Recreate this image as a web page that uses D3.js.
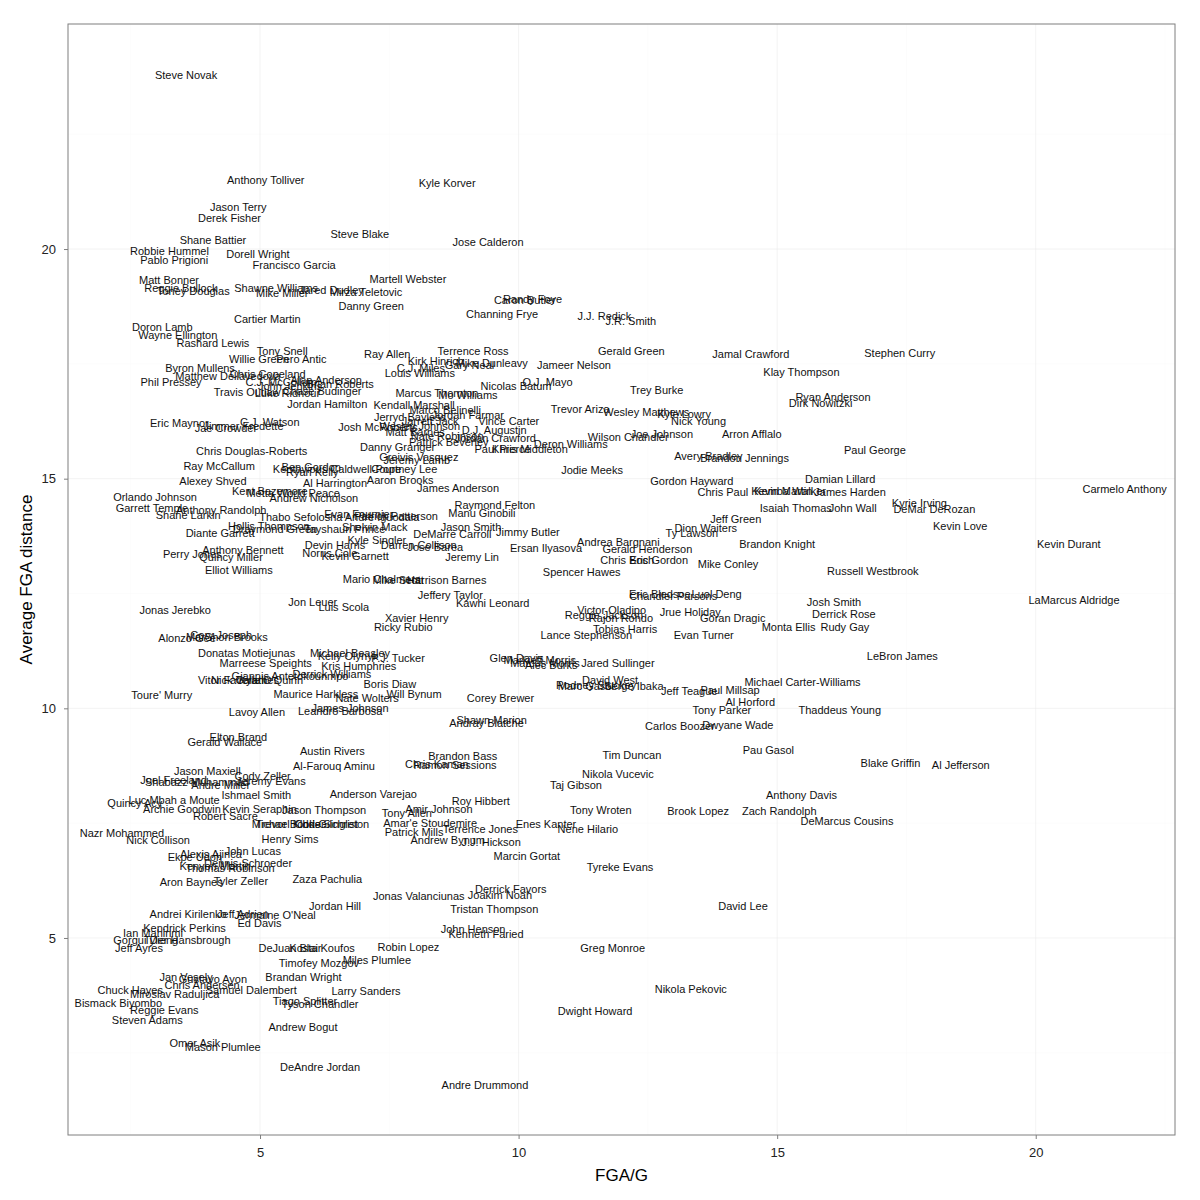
<!DOCTYPE html>
<html>
<head>
<meta charset="utf-8">
<script src="https://cdn.jsdelivr.net/npm/d3@7"></script>
<style>
  body { margin: 0; background: #fff; }
  svg { font-family: "Liberation Sans", Arial, sans-serif; }
</style>
</head>
<body>
<div id="chart"></div>
<script>
// player names, FGA per game and average FGA distance (ft), same order in each array
const players = [
  'Steve Novak', 'Anthony Tolliver', 'Jason Terry', 'Derek Fisher', 'Shane Battier', 'Robbie Hummel', 'Pablo Prigioni', 'Dorell Wright', 'Francisco Garcia', 'Matt Bonner',
  'Reggie Bullock', 'Toney Douglas', 'Shawne Williams', 'Mike Miller', 'Jared Dudley', 'Mirza Teletovic', 'Cartier Martin', 'Doron Lamb', 'Wayne Ellington', 'Rashard Lewis',
  'Kyle Korver', 'Steve Blake', 'Jose Calderon', 'Martell Webster', 'Danny Green', 'Randy Foye', 'Caron Butler', 'Channing Frye', 'J.J. Redick', 'J.R. Smith',
  'Tony Snell', 'Willie Green', 'Pero Antic', 'Byron Mullens', 'Matthew Dellavedova', 'Chris Copeland', 'C.J. McCollum', 'John Jenkins', 'Alan Anderson', 'Brian Roberts',
  'Chase Budinger', 'Travis Outlaw', 'Luke Ridnour', 'Jordan Hamilton', 'Kendall Marshall', 'Phil Pressey', 'Eric Maynor', 'Jae Crowder', 'Jimmer Fredette', 'C.J. Watson',
  'Chris Douglas-Roberts', 'Ray McCallum', 'Alexey Shved', 'Orlando Johnson', 'Garrett Temple', 'Shane Larkin', 'Anthony Randolph', 'Diante Garrett', 'Perry Jones', 'Anthony Bennett',
  'Quincy Miller', 'Hollis Thompson', 'Draymond Green', 'Tayshaun Prince', 'Shelvin Mack', 'Kyle Singler', 'Devin Harris', 'Darren Collison', 'Jose Barea', 'Norris Cole',
  'Kevin Garnett', 'Jeremy Lin', 'Jimmy Butler', 'Ersan Ilyasova', 'DeMarre Carroll', 'Jason Smith', 'Manu Ginobili', 'Raymond Felton', 'Evan Fournier', 'Patrick Patterson',
  'Thabo Sefolosha', 'Andre Iguodala', 'Ray Allen', 'Terrence Ross', 'Kirk Hinrich', 'Mike Dunleavy', 'Gary Neal', 'C.J. Miles', 'Louis Williams', 'Jameer Nelson',
  'O.J. Mayo', 'Nicolas Batum', 'Marcus Thornton', 'Mo Williams', 'Jordan Farmar', 'Vince Carter', 'D.J. Augustin', 'Jordan Crawford', 'Nate Robinson', 'Patrick Beverley',
  'Paul Pierce', 'Khris Middleton', 'Deron Williams', 'Josh McRoberts', 'Jerryd Bayless', 'Marco Belinelli', 'Matt Barnes', 'Wesley Johnson', 'Jarrett Jack', 'Danny Granger',
  'Greivis Vasquez', 'Jeremy Lamb', 'Courtney Lee', 'Kentavious Caldwell-Pope', 'Ben Gordon', 'Ryan Kelly', 'Al Harrington', 'Aaron Brooks', 'James Anderson', 'Metta World Peace',
  'Kent Bazemore', 'Andrew Nicholson', 'Elliot Williams', 'Jonas Jerebko', 'Jon Leuer', 'Alonzo Gee', 'Cory Joseph', 'MarShon Brooks', 'Donatas Motiejunas', 'Marreese Speights',
  'Giannis Antetokounmpo', 'Derrick Williams', 'Vitor Faverani', 'Nick Calathes', "Kyle O'Quinn", "Toure' Murry", 'Maurice Harkless', 'Lavoy Allen', 'Leandro Barbosa', 'Elton Brand',
  'Gerald Wallace', 'Jason Maxiell', 'Cody Zeller', 'Mario Chalmers', 'Mike Scott', 'Harrison Barnes', 'Jeffery Taylor', 'Kawhi Leonard', 'Luis Scola', 'Xavier Henry',
  'Ricky Rubio', 'Michael Beasley', 'Kelly Olynyk', 'P.J. Tucker', 'Kris Humphries', 'Boris Diaw', 'Will Bynum', 'Nate Wolters', 'James Johnson', 'Glen Davis',
  'Markieff Morris', 'Marcus Morris', 'Alec Burks', 'Corey Brewer', 'Shawn Marion', 'Andray Blatche', 'Austin Rivers', 'Al-Farouq Aminu', 'Brandon Bass', 'Chris Kaman',
  'Ramon Sessions', 'Gerald Green', 'Jamal Crawford', 'Klay Thompson', 'Trey Burke', 'Trevor Ariza', 'Wesley Matthews', 'Kyle Lowry', 'Nick Young', 'Wilson Chandler',
  'Joe Johnson', 'Arron Afflalo', 'Jodie Meeks', 'Avery Bradley', 'Brandon Jennings', 'Gordon Hayward', 'Chris Paul', 'Kevin Martin', 'Kemba Walker', 'James Harden',
  'Damian Lillard', 'Isaiah Thomas', 'John Wall', 'Kyrie Irving', 'DeMar DeRozan', 'Kevin Love', 'Carmelo Anthony', 'Kevin Durant', 'Brandon Knight', 'Jeff Green',
  'Dion Waiters', 'Ty Lawson', 'Andrea Bargnani', 'Gerald Henderson', 'Chris Bosh', 'Eric Gordon', 'Mike Conley', 'Spencer Hawes', 'Russell Westbrook', 'Eric Bledsoe',
  'Chandler Parsons', 'Luol Deng', 'Josh Smith', 'LaMarcus Aldridge', 'Victor Oladipo', 'Reggie Jackson', 'Rajon Rondo', 'Jrue Holiday', 'Goran Dragic', 'Derrick Rose',
  'Monta Ellis', 'Rudy Gay', 'Tobias Harris', 'Lance Stephenson', 'Evan Turner', 'LeBron James', 'Jared Sullinger', 'Rodney Stuckey', 'Marc Gasol', 'David West',
  'Serge Ibaka', 'Jeff Teague', 'Paul Millsap', 'Michael Carter-Williams', 'Al Horford', 'Tony Parker', 'Thaddeus Young', 'Carlos Boozer', 'Dwyane Wade', 'Pau Gasol',
  'Tim Duncan', 'Nikola Vucevic', 'Blake Griffin', 'Al Jefferson', 'Stephen Curry', 'Ryan Anderson', 'Dirk Nowitzki', 'Paul George', 'Joel Freeland', 'Shabazz Muhammad',
  'Andre Miller', 'Jeremy Evans', 'Ishmael Smith', 'Luc Mbah a Moute', 'Quincy Acy', 'Archie Goodwin', 'Kevin Seraphin', 'Robert Sacre', 'Jason Thompson', 'Michael Kidd-Gilchrist',
  'Chris Singleton', 'Trevor Booker', 'Henry Sims', 'Nazr Mohammed', 'Nick Collison', 'Alexis Ajinca', 'Ekpe Udoh', 'John Lucas', 'Dennis Schroeder', 'Kenyon Martin',
  'Thomas Robinson', 'Aron Baynes', 'Tyler Zeller', 'Zaza Pachulia', 'Andrei Kirilenko', 'Jeff Adrien', "Jermaine O'Neal", 'Jordan Hill', 'Ed Davis', 'Kendrick Perkins',
  'Ian Mahinmi', 'Tyler Hansbrough', 'Gorgui Dieng', 'Jeff Ayres', 'DeJuan Blair', 'Kosta Koufos', 'Timofey Mozgov', 'Miles Plumlee', 'Robin Lopez', 'Brandan Wright',
  'Jan Vesely', 'Gustavo Ayon', 'Chris Andersen', 'Samuel Dalembert', 'Chuck Hayes', 'Miroslav Raduljica', 'Bismack Biyombo', 'Tiago Splitter', 'Tyson Chandler', 'Larry Sanders',
  'Reggie Evans', 'Steven Adams', 'Andrew Bogut', 'Omer Asik', 'Mason Plumlee', 'DeAndre Jordan', 'Andre Drummond', 'Anderson Varejao', 'Roy Hibbert', 'Amir Johnson',
  'Tony Allen', "Amar'e Stoudemire", 'Terrence Jones', 'Patrick Mills', 'Andrew Bynum', 'J.J. Hickson', 'Marcin Gortat', 'Enes Kanter', 'Nene Hilario', 'Jonas Valanciunas',
  'Derrick Favors', 'Joakim Noah', 'Tristan Thompson', 'John Henson', 'Kenneth Faried', 'Taj Gibson', 'Tony Wroten', 'Brook Lopez', 'Zach Randolph', 'Anthony Davis',
  'DeMarcus Cousins', 'Tyreke Evans', 'David Lee', 'Greg Monroe', 'Nikola Pekovic', 'Dwight Howard'
];

const fgaPerGame = [
  3.57, 5.11, 4.58, 4.41, 4.09, 3.25, 3.34, 4.96, 5.66, 3.24,
  3.47, 3.71, 5.31, 5.43, 6.38, 7.05, 5.14, 3.11, 3.41, 4.09,
  8.62, 6.93, 9.41, 7.86, 7.15, 10.27, 10.12, 9.68, 11.66, 12.17,
  5.43, 4.98, 5.80, 3.84, 4.38, 5.15, 5.41, 5.58, 6.28, 6.55,
  6.20, 4.75, 5.53, 6.30, 7.98, 3.28, 3.44, 4.34, 4.68, 5.19,
  4.84, 4.21, 4.09, 2.97, 2.91, 3.61, 4.25, 4.23, 3.69, 4.67,
  4.44, 5.17, 5.29, 6.64, 7.22, 7.26, 6.45, 8.07, 8.39, 6.35,
  6.84, 9.10, 10.18, 10.53, 8.72, 9.08, 9.29, 9.54, 6.91, 7.63,
  5.79, 7.36, 7.46, 9.12, 8.40, 9.48, 9.05, 8.11, 8.09, 11.07,
  10.56, 9.95, 8.42, 9.02, 9.02, 9.81, 9.53, 9.55, 8.62, 8.65,
  9.69, 10.22, 11.01, 7.28, 7.90, 8.58, 8.00, 8.09, 8.29, 7.66,
  8.07, 8.03, 7.79, 6.49, 5.99, 6.01, 6.45, 7.71, 8.83, 5.64,
  5.19, 6.04, 4.59, 3.36, 6.02, 3.59, 4.25, 4.36, 4.74, 5.11,
  5.58, 6.39, 4.46, 4.71, 5.21, 3.10, 6.08, 4.94, 6.55, 4.58,
  4.32, 3.98, 5.05, 7.35, 7.67, 8.61, 8.68, 9.50, 6.62, 8.03,
  7.77, 6.74, 6.70, 7.67, 6.91, 7.51, 7.98, 7.07, 6.74, 9.96,
  10.41, 10.51, 10.63, 9.65, 9.48, 9.38, 6.40, 6.43, 8.92, 8.42,
  8.77, 12.18, 14.49, 15.47, 12.67, 11.19, 12.47, 13.20, 13.48, 12.12,
  12.77, 14.51, 11.42, 13.67, 14.37, 13.35, 13.95, 15.09, 15.25, 16.41,
  16.22, 15.36, 16.46, 17.75, 18.04, 18.54, 21.72, 20.64, 15.00, 14.20,
  13.62, 13.35, 11.93, 12.49, 12.10, 12.71, 14.05, 11.22, 16.85, 12.73,
  12.99, 13.83, 16.10, 20.74, 11.80, 11.65, 11.98, 13.32, 14.14, 16.29,
  15.22, 16.31, 12.06, 11.31, 13.58, 17.42, 11.92, 11.50, 11.30, 11.77,
  12.23, 13.30, 14.09, 15.49, 14.48, 13.93, 16.21, 13.12, 14.24, 14.83,
  12.19, 11.92, 17.19, 18.55, 17.37, 16.08, 15.84, 16.89, 3.33, 3.78,
  4.24, 5.21, 4.93, 3.34, 2.58, 3.49, 4.99, 4.33, 6.24, 5.87,
  6.39, 5.58, 5.58, 2.33, 3.03, 4.05, 3.74, 4.86, 4.77, 4.13,
  4.42, 3.67, 4.63, 6.30, 3.61, 4.67, 5.29, 6.45, 4.99, 3.54,
  2.93, 3.59, 2.79, 2.66, 5.58, 6.20, 6.14, 7.26, 7.87, 5.84,
  3.57, 4.09, 3.88, 4.83, 2.49, 3.35, 2.26, 5.87, 6.16, 7.05,
  3.15, 2.82, 5.83, 3.74, 4.28, 6.16, 9.35, 7.19, 9.27, 8.46,
  7.84, 8.29, 9.26, 7.98, 8.63, 9.47, 10.16, 10.53, 11.34, 8.07,
  9.85, 9.64, 9.53, 9.12, 9.37, 11.11, 11.59, 13.47, 15.04, 15.47,
  16.35, 11.96, 14.34, 11.82, 13.33, 11.48
];

const fgaDistance = [
  23.80, 21.52, 20.93, 20.70, 20.20, 19.98, 19.77, 19.91, 19.66, 19.34,
  19.17, 19.09, 19.17, 19.06, 19.12, 19.07, 18.48, 18.32, 18.14, 17.97,
  21.45, 20.33, 20.17, 19.36, 18.78, 18.93, 18.90, 18.59, 18.56, 18.44,
  17.79, 17.63, 17.62, 17.43, 17.26, 17.30, 17.11, 17.04, 17.17, 17.07,
  16.93, 16.91, 16.87, 16.63, 16.61, 17.12, 16.23, 16.11, 16.16, 16.25,
  15.62, 15.30, 14.96, 14.62, 14.38, 14.22, 14.33, 13.83, 13.38, 13.46,
  13.31, 13.98, 13.91, 13.91, 13.96, 13.68, 13.57, 13.57, 13.52, 13.39,
  13.34, 13.31, 13.86, 13.51, 13.80, 13.97, 14.26, 14.44, 14.24, 14.20,
  14.17, 14.17, 17.73, 17.79, 17.57, 17.54, 17.48, 17.43, 17.32, 17.48,
  17.11, 17.04, 16.88, 16.83, 16.39, 16.28, 16.07, 15.91, 15.94, 15.82,
  15.67, 15.65, 15.76, 16.13, 16.35, 16.50, 16.02, 16.17, 16.26, 15.70,
  15.49, 15.43, 15.22, 15.22, 15.26, 15.15, 14.93, 14.98, 14.82, 14.70,
  14.74, 14.59, 13.03, 12.15, 12.33, 11.54, 11.61, 11.57, 11.22, 10.99,
  10.72, 10.76, 10.62, 10.63, 10.63, 10.30, 10.33, 9.93, 9.96, 9.40,
  9.29, 8.65, 8.53, 12.84, 12.80, 12.81, 12.48, 12.30, 12.21, 11.97,
  11.79, 11.22, 11.16, 11.11, 10.93, 10.54, 10.33, 10.23, 10.02, 11.12,
  11.07, 11.00, 10.96, 10.24, 9.75, 9.69, 9.09, 8.75, 8.98, 8.80,
  8.78, 17.80, 17.72, 17.33, 16.95, 16.52, 16.47, 16.43, 16.28, 15.92,
  15.98, 15.98, 15.20, 15.51, 15.46, 14.96, 14.73, 14.74, 14.74, 14.73,
  15.00, 14.37, 14.38, 14.48, 14.36, 13.98, 14.78, 13.59, 13.60, 14.13,
  13.95, 13.83, 13.64, 13.48, 13.25, 13.24, 13.15, 12.98, 13.01, 12.51,
  12.45, 12.51, 12.32, 12.38, 12.15, 12.05, 11.98, 12.12, 11.98, 12.06,
  11.79, 11.79, 11.75, 11.62, 11.62, 11.16, 11.00, 10.52, 10.50, 10.62,
  10.51, 10.40, 10.41, 10.58, 10.15, 9.98, 9.98, 9.62, 9.66, 9.11,
  9.00, 8.59, 8.82, 8.78, 17.76, 16.80, 16.67, 15.63, 8.46, 8.41,
  8.35, 8.43, 8.13, 8.02, 7.96, 7.83, 7.83, 7.66, 7.79, 7.50,
  7.50, 7.50, 7.17, 7.30, 7.15, 6.85, 6.78, 6.90, 6.65, 6.59,
  6.54, 6.23, 6.25, 6.29, 5.54, 5.54, 5.51, 5.70, 5.33, 5.24,
  5.13, 4.98, 4.96, 4.80, 4.80, 4.80, 4.47, 4.53, 4.82, 4.17,
  4.17, 4.11, 4.00, 3.88, 3.89, 3.80, 3.59, 3.65, 3.57, 3.86,
  3.44, 3.22, 3.08, 2.73, 2.65, 2.20, 1.81, 8.14, 7.99, 7.83,
  7.73, 7.52, 7.39, 7.32, 7.15, 7.10, 6.80, 7.50, 7.39, 5.92,
  6.07, 5.94, 5.64, 5.20, 5.09, 8.35, 7.80, 7.78, 7.78, 8.12,
  7.55, 6.56, 5.71, 4.80, 3.91, 3.42
];

const majorTicks = [5, 10, 15, 20];
const minorTicks = [2.5, 7.5, 12.5, 17.5, 22.5];
const xTitle = 'FGA/G';
const yTitle = 'Average FGA distance';

const width = 1200, height = 1200;
const margin = {top: 24, right: 25, bottom: 65, left: 68};
const innerW = width - margin.left - margin.right;
const innerH = height - margin.top - margin.bottom;

const rows = players.map((name, i) => ({name: name, x: fgaPerGame[i], y: fgaDistance[i]}));

// ggplot style 5% padding on each side of the data range
function padded(ext) {
  const pad = (ext[1] - ext[0]) * 0.05;
  return [ext[0] - pad, ext[1] + pad];
}

const xScale = d3.scaleLinear().domain(padded(d3.extent(rows, d => d.x))).range([0, innerW]);
const yScale = d3.scaleLinear().domain(padded(d3.extent(rows, d => d.y))).range([innerH, 0]);

const svg = d3.select('#chart').append('svg')
  .attr('width', width)
  .attr('height', height);

svg.append('rect').attr('width', width).attr('height', height).attr('fill', '#fff');

const g = svg.append('g')
  .attr('transform', 'translate(' + margin.left + ',' + margin.top + ')');

// grid lines
const inX = v => v > xScale.domain()[0] && v < xScale.domain()[1];
const inY = v => v > yScale.domain()[0] && v < yScale.domain()[1];

g.selectAll('.minor-x').data(minorTicks.filter(inX)).enter().append('line')
  .attr('x1', d => xScale(d)).attr('x2', d => xScale(d))
  .attr('y1', 0).attr('y2', innerH)
  .attr('stroke', '#fafafa').attr('stroke-width', 0.6);
g.selectAll('.minor-y').data(minorTicks.filter(inY)).enter().append('line')
  .attr('y1', d => yScale(d)).attr('y2', d => yScale(d))
  .attr('x1', 0).attr('x2', innerW)
  .attr('stroke', '#fafafa').attr('stroke-width', 0.6);
g.selectAll('.major-x').data(majorTicks).enter().append('line')
  .attr('x1', d => xScale(d)).attr('x2', d => xScale(d))
  .attr('y1', 0).attr('y2', innerH)
  .attr('stroke', '#ebebeb').attr('stroke-width', 0.6);
g.selectAll('.major-y').data(majorTicks).enter().append('line')
  .attr('y1', d => yScale(d)).attr('y2', d => yScale(d))
  .attr('x1', 0).attr('x2', innerW)
  .attr('stroke', '#ebebeb').attr('stroke-width', 0.6);

// axes
const xAxis = g.append('g')
  .attr('transform', 'translate(0,' + innerH + ')')
  .call(d3.axisBottom(xScale).tickValues(majorTicks).tickSize(4).tickPadding(9).tickFormat(d3.format('d')));
const yAxis = g.append('g')
  .call(d3.axisLeft(yScale).tickValues(majorTicks).tickSize(4).tickPadding(8).tickFormat(d3.format('d')));

[xAxis, yAxis].forEach(ax => {
  ax.select('.domain').remove();
  ax.selectAll('line').attr('stroke', '#7f7f7f');
  ax.selectAll('text')
    .attr('fill', '#222')
    .style('font-size', '13px')
    .style('font-family', '"Liberation Sans", Arial, sans-serif');
});

// panel border
g.append('rect')
  .attr('width', innerW).attr('height', innerH)
  .attr('fill', 'none').attr('stroke', '#7f7f7f').attr('stroke-width', 1);

// player labels
g.selectAll('.player').data(rows).enter().append('text')
  .attr('class', 'player')
  .attr('x', d => xScale(d.x))
  .attr('y', d => yScale(d.y))
  .attr('dy', '0.42em')
  .attr('text-anchor', 'middle')
  .style('font-size', '11px')
  .attr('fill', '#111')
  .text(d => d.name);

// axis titles
svg.append('text')
  .attr('x', margin.left + innerW / 2)
  .attr('y', 1181)
  .attr('text-anchor', 'middle')
  .style('font-size', '17px')
  .text(xTitle);

svg.append('text')
  .attr('transform', 'translate(32,' + (margin.top + innerH / 2) + ') rotate(-90)')
  .attr('text-anchor', 'middle')
  .style('font-size', '17px')
  .text(yTitle);
</script>
</body>
</html>
